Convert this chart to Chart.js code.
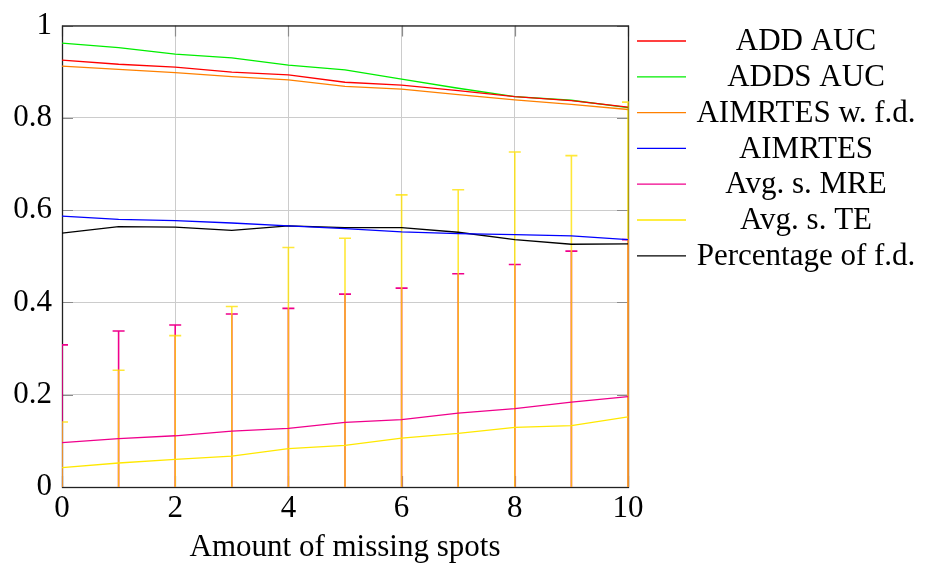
<!DOCTYPE html>
<html>
<head>
<meta charset="utf-8">
<script src="https://cdn.jsdelivr.net/npm/chart.js@4.4.0/dist/chart.umd.min.js"></script>
<style>
html, body { margin: 0; padding: 0; background: #fff; }
#wrap { width: 926px; height: 566px; position: relative; }
</style>
</head>
<body>
<div id="wrap"><canvas id="lineChart"></canvas></div>
<script>
// x values: amount of missing spots
var missing = [0, 1, 2, 3, 4, 5, 6, 7, 8, 9, 10];

var addAuc     = [0.925, 0.916, 0.910, 0.899, 0.893, 0.877, 0.871, 0.859, 0.846, 0.837, 0.823];
var addsAuc    = [0.962, 0.952, 0.938, 0.930, 0.914, 0.904, 0.884, 0.864, 0.846, 0.838, 0.822];
var aimrtesFd  = [0.912, 0.905, 0.898, 0.889, 0.882, 0.868, 0.862, 0.850, 0.839, 0.829, 0.818];
var aimrtes    = [0.587, 0.580, 0.577, 0.572, 0.566, 0.560, 0.553, 0.549, 0.547, 0.544, 0.536];
var avgMre     = [0.096, 0.105, 0.111, 0.121, 0.127, 0.140, 0.146, 0.160, 0.170, 0.184, 0.196];
var avgTe      = [0.042, 0.052, 0.060, 0.067, 0.083, 0.090, 0.106, 0.116, 0.129, 0.133, 0.152];
var pctFd      = [0.550, 0.564, 0.563, 0.556, 0.566, 0.562, 0.562, 0.552, 0.536, 0.526, 0.527];

// symmetric error bars (std)
var mreErr = [0.212, 0.233, 0.240, 0.254, 0.260, 0.278, 0.285, 0.302, 0.312, 0.327, 0.340];
var teErr  = [0.099, 0.201, 0.268, 0.324, 0.436, 0.449, 0.527, 0.528, 0.597, 0.585, 0.682];

var seriesLabels = ['ADD AUC', 'ADDS AUC', 'AIMRTES w. f.d.', 'AIMRTES', 'Avg. s. MRE', 'Avg. s. TE', 'Percentage of f.d.'];
var seriesData   = [addAuc, addsAuc, aimrtesFd, aimrtes, avgMre, avgTe, pctFd];
var seriesColors = ['#ff0000', '#00ee00', '#ff8000', '#0000ff', '#f0008c', '#ffe800', '#000000'];

var FONT = '"Liberation Serif", "DejaVu Serif", serif';

function pts(arr) {
    var out = [];
    for (var i = 0; i < arr.length; i++) {
        out.push({x: missing[i], y: arr[i]});
    }
    return out;
}

var datasets = [];
for (var s = 0; s < seriesLabels.length; s++) {
    datasets.push({
        label: seriesLabels[s],
        data: pts(seriesData[s]),
        borderColor: seriesColors[s],
        backgroundColor: seriesColors[s],
        borderWidth: 1.3,
        pointRadius: 0,
        fill: false,
        tension: 0
    });
}

function drawErrorBars(ctx, xs, ys, avg, err, color) {
    ctx.strokeStyle = color;
    ctx.lineWidth = 1.6;
    for (var i = 0; i < avg.length; i++) {
        var px = xs.getPixelForValue(missing[i]);
        var top = ys.getPixelForValue(avg[i] + err[i]);
        var bot = ys.getPixelForValue(avg[i] - err[i]);
        ctx.beginPath();
        ctx.moveTo(px, top); ctx.lineTo(px, bot);
        ctx.moveTo(px - 6, top); ctx.lineTo(px + 6, top);
        ctx.moveTo(px - 6, bot); ctx.lineTo(px + 6, bot);
        ctx.stroke();
    }
}

var framePlugin = {
    id: 'frame',
    beforeDatasetsDraw: function(chart) {
        var a = chart.chartArea, ctx = chart.ctx;
        var xs = chart.scales.x, ys = chart.scales.y;
        ctx.save();
        ctx.strokeStyle = '#8c8c8c';
        ctx.lineWidth = 1.2;
        ctx.beginPath();
        xs.ticks.forEach(function(t) {
            var px = Math.round(xs.getPixelForValue(t.value)) + 0.5;
            ctx.moveTo(px, a.bottom); ctx.lineTo(px, a.bottom - 11);
            ctx.moveTo(px, a.top); ctx.lineTo(px, a.top + 11);
        });
        ys.ticks.forEach(function(t) {
            var py = Math.round(ys.getPixelForValue(t.value)) + 0.5;
            ctx.moveTo(a.left, py); ctx.lineTo(a.left + 11, py);
            ctx.moveTo(a.right, py); ctx.lineTo(a.right - 11, py);
        });
        ctx.stroke();
        ctx.strokeStyle = '#222';
        ctx.lineWidth = 1.3;
        ctx.strokeRect(a.left + 0.5, a.top + 0.5, a.right - a.left, a.bottom - a.top);

        ctx.beginPath();
        ctx.rect(a.left, a.top, a.right - a.left + 1, a.bottom - a.top);
        ctx.clip();
        drawErrorBars(ctx, xs, ys, avgMre, mreErr, '#f0008c');
        drawErrorBars(ctx, xs, ys, avgTe, teErr, 'rgba(255,225,0,0.78)');
        ctx.restore();
    }
};

var legendPlugin = {
    id: 'sideLegend',
    afterDraw: function(chart) {
        var ctx = chart.ctx;
        ctx.save();
        ctx.font = '31px ' + FONT;
        ctx.textAlign = 'center';
        ctx.textBaseline = 'middle';
        chart.data.datasets.forEach(function(ds, i) {
            var y = 41 + i * 35.8;
            ctx.strokeStyle = ds.borderColor;
            ctx.lineWidth = 1.3;
            ctx.beginPath();
            ctx.moveTo(637, y); ctx.lineTo(686, y);
            ctx.stroke();
            ctx.fillStyle = '#000';
            ctx.fillText(ds.label, 806, y + 1);
        });
        ctx.restore();
    }
};

var ctx = document.getElementById('lineChart').getContext('2d');
new Chart(ctx, {
    type: 'line',
    data: { datasets: datasets },
    plugins: [framePlugin, legendPlugin],
    options: {
        responsive: true,
        maintainAspectRatio: false,
        animation: false,
        devicePixelRatio: 1,
        layout: { padding: { left: 0, right: 298, top: 17, bottom: 0 } },
        plugins: { legend: { display: false }, tooltip: { enabled: false } },
        scales: {
            x: {
                type: 'linear',
                min: 0, max: 10,
                afterFit: function(scale) { scale.height = 79; },
                border: { display: false },
                grid: { color: '#cccccc', lineWidth: 1, drawTicks: false },
                ticks: {
                    stepSize: 2,
                    padding: 6,
                    color: '#000',
                    font: { family: FONT, size: 31, lineHeight: 1 },
                    maxRotation: 0
                },
                title: {
                    display: true,
                    text: 'Amount of missing spots',
                    color: '#000',
                    font: { family: FONT, size: 31, lineHeight: 1.2 },
                    padding: { top: 0, bottom: 0 }
                }
            },
            y: {
                min: 0, max: 1,
                afterFit: function(scale) { scale.width = 62; },
                border: { display: false },
                grid: { color: '#cccccc', lineWidth: 1, drawTicks: false },
                ticks: {
                    stepSize: 0.2,
                    padding: 10,
                    color: '#000',
                    font: { family: FONT, size: 31, lineHeight: 1 },
                    callback: function(v) { return String(+v.toFixed(1)); }
                }
            }
        }
    }
});
</script>
</body>
</html>
